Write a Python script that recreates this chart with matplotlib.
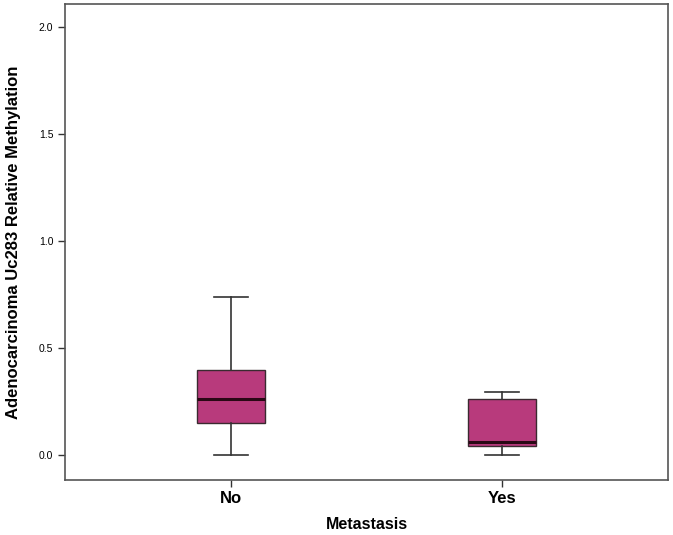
import matplotlib
matplotlib.use("Agg")
import matplotlib.pyplot as plt

groups = ["No", "Yes"]
whislo = [0.0, 0.0]
q1 = [0.151, 0.041]
med = [0.260, 0.059]
q3 = [0.397, 0.260]
whishi = [0.738, 0.294]

fill = "#B83A7C"

stats = []
for i, g in enumerate(groups):
    stats.append({"label": g, "whislo": whislo[i], "q1": q1[i], "med": med[i],
                  "q3": q3[i], "whishi": whishi[i], "fliers": []})

fig = plt.figure(figsize=(6.73, 5.35), dpi=100)
ax = fig.add_axes([0.0966, 0.1028, 0.896, 0.8897])

ax.bxp(stats, positions=[1, 2], widths=0.25, patch_artist=True, showfliers=False,
       boxprops=dict(facecolor=fill, edgecolor="#3a2a30", linewidth=1.0),
       medianprops=dict(color="#2a0815", linewidth=2.2),
       whiskerprops=dict(color="#333333", linewidth=1.2),
       capprops=dict(color="#333333", linewidth=1.2),
       capwidths=0.125)

ax.set_xlim(0.39, 2.61)
ax.set_ylim(-0.117, 2.107)
ax.set_yticks([0.0, 0.5, 1.0, 1.5, 2.0])
ax.set_yticklabels(["0.0", "0.5", "1.0", "1.5", "2.0"], fontsize=7.5,
                   family="Liberation Sans")
ax.set_xticks([1, 2])
ax.set_xticklabels(groups, fontsize=12, fontweight="bold", family="Liberation Sans")
ax.tick_params(axis="both", color="#333333", length=5, width=1)
ax.tick_params(axis="x", pad=3)

for s in ax.spines.values():
    s.set_color("#555555")
    s.set_linewidth(1.2)

ax.set_ylabel("Adenocarcinoma Uc283 Relative Methylation", fontsize=12,
              fontweight="bold", family="Liberation Sans", labelpad=13)
ax.set_xlabel("Metastasis", fontsize=11.5, fontweight="bold",
              family="Liberation Sans", labelpad=8)

fig.savefig("out.png", dpi=100)
